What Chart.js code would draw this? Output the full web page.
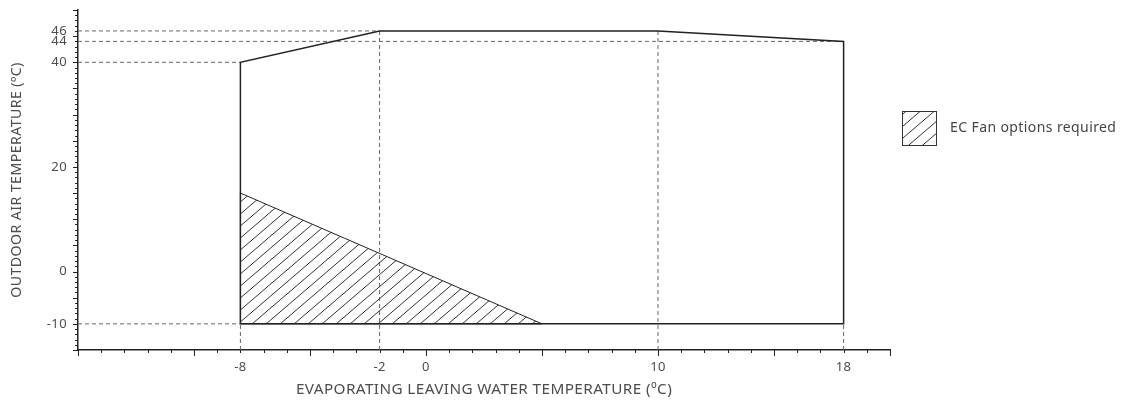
<!DOCTYPE html>
<html>
<head>
<meta charset="utf-8">
<script src="https://cdn.jsdelivr.net/npm/chart.js@4"></script>
<style>
  html, body { margin: 0; padding: 0; background: #fff; }
  #wrap { width: 1124px; height: 400px; }
</style>
</head>
<body>
<div id="wrap"><canvas id="chart" width="1124" height="400"></canvas></div>
<script>
// operating envelope outline (evap. leaving water temp vs outdoor air temp)
const envelopeX = [-8, -8, -2, 10, 18, 18, -8];
const envelopeY = [-10, 40, 46, 46, 44, -10, -10];

// zone where EC fan options are required
const hatchX = [-8, -8, 5, -8];
const hatchY = [-10, 15, -10, -10];

// dashed guide lines from the axes to the corners
const hGuideY = [46, 44, 40, -10];
const hGuideToX = [-2, 18, -8, -8];
const vGuideX = [-8, -2, 10, 18];
const vGuideToY = [-10, 46, 46, -10];

// labelled ticks
const xTickLabels = [-8, -2, 0, 10, 18];
const yTickLabels = [-10, 0, 20, 40, 44, 46];

const xMin = -15, xMax = 20, yMin = -15, yMax = 50;
const legendLabel = 'EC Fan options required';

const textColor = '#4d4d4d';
const lineColor = '#222';
const guideColor = '#666';
const fontFamily = '"Noto Sans", "Open Sans", sans-serif';

const ctx = document.getElementById('chart').getContext('2d');

function makeHatch() {
    const c = document.createElement('canvas');
    c.width = 14;
    c.height = 12;
    const g = c.getContext('2d');
    g.strokeStyle = '#333';
    g.lineWidth = 1;
    g.beginPath();
    g.moveTo(0, 12);
    g.lineTo(14, 0);
    g.moveTo(-2, 1.7);
    g.lineTo(2, -1.7);
    g.moveTo(12, 13.7);
    g.lineTo(16, 10.3);
    g.stroke();
    return ctx.createPattern(c, 'repeat');
}
const hatch = makeHatch();

const toPoints = (xs, ys) => xs.map((x, i) => ({ x, y: ys[i] }));

const datasets = [
    {
        label: 'Envelope',
        data: toPoints(envelopeX, envelopeY),
        showLine: true,
        borderColor: lineColor,
        borderWidth: 1.5,
        pointRadius: 0,
        fill: false,
        tension: 0
    },
    {
        label: legendLabel,
        data: toPoints(hatchX, hatchY),
        showLine: true,
        borderColor: lineColor,
        borderWidth: 1,
        backgroundColor: hatch,
        pointRadius: 0,
        fill: 'shape',
        tension: 0
    }
];

hGuideY.forEach((y, i) => {
    datasets.push({
        label: 'guide',
        data: [{ x: xMin, y }, { x: hGuideToX[i], y }],
        showLine: true,
        borderColor: guideColor,
        borderWidth: 1,
        borderDash: [4, 3],
        pointRadius: 0,
        fill: false
    });
});
vGuideX.forEach((x, i) => {
    datasets.push({
        label: 'guide',
        data: [{ x, y: yMin }, { x, y: vGuideToY[i] }],
        showLine: true,
        borderColor: guideColor,
        borderWidth: 1,
        borderDash: [4, 3],
        pointRadius: 0,
        fill: false
    });
});

// slightly wider text like the original
const spacing = {
    id: 'spacing',
    beforeDraw(chart) { chart.ctx.letterSpacing = '0.4px'; }
};

// small + large tick marks, drawn from the scales
const tickMarks = {
    id: 'tickMarks',
    afterDraw(chart) {
        const { x, y } = chart.scales;
        const c = chart.ctx;
        c.save();
        c.strokeStyle = lineColor;
        c.lineWidth = 1;
        c.beginPath();
        for (let v = xMin; v <= xMax; v++) {
            const px = Math.round(x.getPixelForValue(v)) + 0.5;
            const len = v % 5 === 0 ? 6 : 3;
            c.moveTo(px, y.bottom);
            c.lineTo(px, y.bottom + len);
        }
        for (let v = yMin; v <= yMax; v++) {
            const py = Math.round(y.getPixelForValue(v)) + 0.5;
            const len = v % 5 === 0 ? 5 : 3;
            c.moveTo(x.left, py);
            c.lineTo(x.left - len, py);
        }
        c.stroke();
        c.restore();
    }
};

// legend box on the right
const sideLegend = {
    id: 'sideLegend',
    afterDraw(chart) {
        const c = chart.ctx;
        const bx = chart.chartArea.right + 12;
        const by = 111;
        c.save();
        c.fillStyle = hatch;
        c.fillRect(bx, by, 34, 34);
        c.strokeStyle = '#333';
        c.lineWidth = 1;
        c.strokeRect(bx + 0.5, by + 0.5, 34, 34);
        c.fillStyle = '#444';
        c.font = '14px ' + fontFamily;
        c.textBaseline = 'middle';
        c.fillText(legendLabel, bx + 48, by + 17);
        c.restore();
    }
};

new Chart(ctx, {
    type: 'scatter',
    data: { datasets },
    options: {
        responsive: false,
        animation: false,
        events: [],
        layout: { padding: { left: 0, right: 234, top: 10, bottom: 0 } },
        plugins: {
            legend: { display: false },
            tooltip: { enabled: false }
        },
        scales: {
            x: {
                type: 'linear',
                min: xMin,
                max: xMax,
                afterBuildTicks: (scale) => {
                    scale.ticks = xTickLabels.map((value) => ({ value }));
                },
                afterFit: (scale) => { scale.height = 50; },
                grid: { display: false, drawTicks: false },
                border: { display: true, color: lineColor, width: 1.5 },
                ticks: {
                    autoSkip: false,
                    maxRotation: 0,
                    padding: 9,
                    color: textColor,
                    font: { family: fontFamily, size: 13 }
                },
                title: {
                    display: true,
                    text: 'EVAPORATING LEAVING WATER TEMPERATURE (ºC)',
                    color: textColor,
                    font: { family: fontFamily, size: 15.3 },
                    padding: { top: 0, bottom: 1 }
                }
            },
            y: {
                type: 'linear',
                min: yMin,
                max: yMax,
                afterBuildTicks: (scale) => {
                    scale.ticks = yTickLabels.map((value) => ({ value }));
                },
                afterFit: (scale) => {
                    scale.width = 78;
                    scale.paddingTop = 0;
                },
                grid: { display: false, drawTicks: false },
                border: { display: true, color: lineColor, width: 1.5 },
                ticks: {
                    autoSkip: false,
                    padding: 11,
                    color: textColor,
                    font: { family: fontFamily, size: 13 }
                },
                title: {
                    display: true,
                    text: 'OUTDOOR AIR TEMPERATURE (ºC)',
                    color: textColor,
                    font: { family: fontFamily, size: 14.2 },
                    padding: { top: 8, bottom: 0 }
                }
            }
        }
    },
    plugins: [spacing, tickMarks, sideLegend]
});
</script>
</body>
</html>
